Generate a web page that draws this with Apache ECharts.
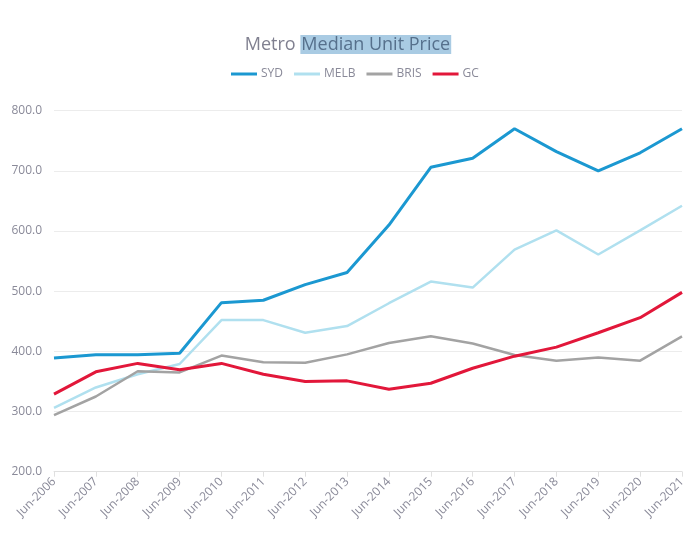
<!DOCTYPE html>
<html><head><meta charset="utf-8">
<script src="https://cdn.jsdelivr.net/npm/echarts@6/dist/echarts.min.js"></script>
<style>html,body{margin:0;padding:0;background:#fff}#c{width:696px;height:551px}</style>
</head><body><div id="c"></div>
<script>
const categories = ['Jun-2006','Jun-2007','Jun-2008','Jun-2009','Jun-2010','Jun-2011','Jun-2012','Jun-2013','Jun-2014','Jun-2015','Jun-2016','Jun-2017','Jun-2018','Jun-2019','Jun-2020','Jun-2021'];
const syd  = [389, 394.5, 394.5, 397, 481, 485, 511, 531, 610, 706, 721, 770, 732, 700, 730, 770];
const melb = [306, 340, 362, 379, 452, 452, 431, 442, 480, 516, 506, 569, 601, 561, 601, 642];
const bris = [294, 325, 367, 365, 393, 382, 381, 395, 414, 425, 413, 394, 384.5, 390, 384.5, 425];
const gc   = [329, 366, 380, 369.5, 380, 362, 350, 351, 337, 347, 372, 392, 407, 431, 456, 498];
const font = 'Open Sans';
const chart = echarts.init(document.getElementById('c'));
function s(name, data, color, w){
  return {name, type:'line', data, symbol:'none', smooth:false,
    lineStyle:{color, width:w}, itemStyle:{color}};
}
chart.setOption({
  animation:false,
  title:{text:'Metro {hl|Median Unit Price}', left:'center', top:30,
    textStyle:{fontFamily:font, fontSize:18, fontWeight:'normal', color:'#808090',
      rich:{hl:{fontFamily:font, fontSize:18, color:'#56708c', backgroundColor:'#a9cbe3', padding:[1,1,0,1]}}}},
  legend:{top:63, left:226, itemWidth:26, itemHeight:3, itemGap:11, icon:'rect',
    textStyle:{fontFamily:font, fontSize:12, color:'#8a8a99', padding:[0,0,0,-1]}},
  grid:{left:54, right:14, top:110.7, bottom:79.3, containLabel:false},
  xAxis:{type:'category', data:categories, boundaryGap:false,
    axisLine:{lineStyle:{color:'#e0e0e0'}}, axisTick:{lineStyle:{color:'#e0e0e0'}, length:5},
    axisLabel:{rotate:45, fontFamily:font, fontSize:12, color:'#8a8a99', margin:8, interval:0}},
  yAxis:{type:'value', min:200, max:800, interval:100,
    axisLine:{show:false}, axisTick:{show:false},
    splitLine:{lineStyle:{color:'#ececec'}},
    axisLabel:{fontFamily:font, fontSize:12, color:'#8a8a99', margin:12, formatter:v=>v.toFixed(1)}},
  series:[s('SYD',syd,'#1b98d1',3), s('MELB',melb,'#b0e0ef',2.5), s('BRIS',bris,'#a3a3a3',2.5), s('GC',gc,'#e2173a',3)]
});
</script></body></html>
